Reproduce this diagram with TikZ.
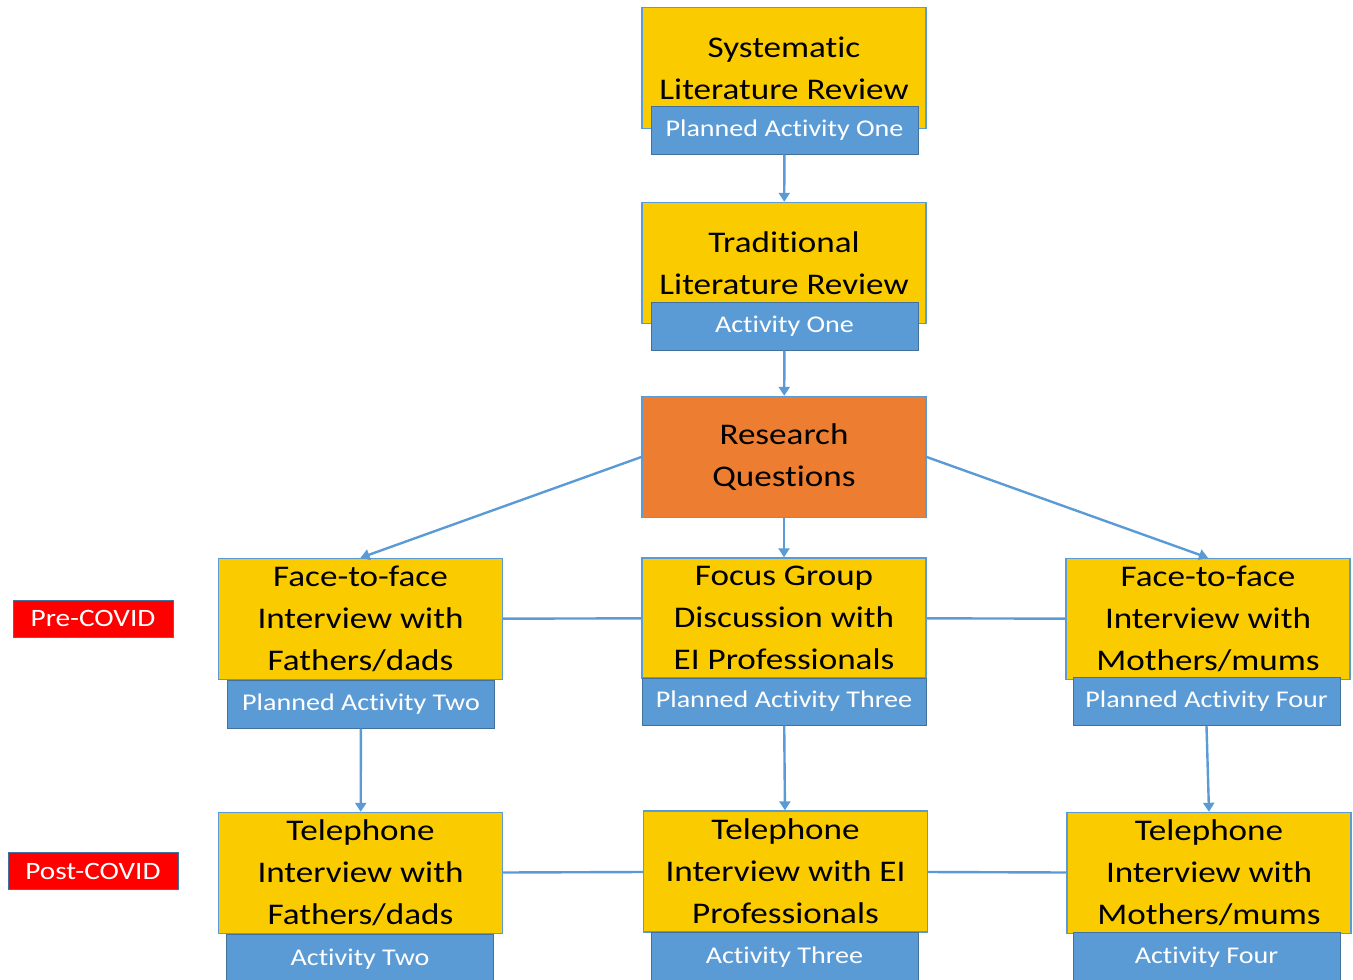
\documentclass[tikz,border=0pt]{standalone}
\usepackage{fontspec}
\setmainfont{Carlito}[FakeStretch=1.17,Ligatures=NoCommon]
\usetikzlibrary{arrows.meta}
\definecolor{stageyellow}{RGB}{250,204,0}
\definecolor{stageblue}{RGB}{91,155,213}
\definecolor{stagebluedark}{RGB}{65,113,156}
\definecolor{stageorange}{RGB}{237,125,49}
\definecolor{covidred}{RGB}{255,0,0}
\begin{document}
\begin{tikzpicture}[x=1pt,y=-1pt,
                stagebox/.style={draw=stageblue,line width=1.4pt,fill=stageyellow,
                    minimum width=284pt,minimum height=121pt,inner sep=0pt,
                    align=center,font=\fontsize{30}{42}\selectfont},
                rqbox/.style={stagebox,fill=stageorange},
                actlabel/.style={draw=stagebluedark,line width=1pt,fill=stageblue,
                    text=white,minimum width=267pt,minimum height=48pt,inner sep=0pt,
                    font=\fontsize{24}{28}\selectfont},
                covidtag/.style={draw=stagebluedark,line width=1pt,fill=covidred,
                    text=white,minimum height=37pt,inner sep=0pt,
                    font=\fontsize{25}{28}\selectfont},
                flow/.style={draw=stageblue,line width=2.4pt,
                    -{Triangle[width=11pt,length=9pt]}},
                link/.style={draw=stageblue,line width=2.4pt}]
                \useasboundingbox (0,0) rectangle (1353,980);
                \node[stagebox] (slr) at (784,68) {Systematic\\Literature Review};
                \node[actlabel] (slrlbl) at (784.5,130) {Planned Activity One};
                \node[stagebox] (tlr) at (784,263) {Traditional\\Literature Review};
                \node[actlabel] (tlrlbl) at (784.5,326) {Activity One};
                \node[rqbox] (rq) at (784,457) {Research\\Questions};
                \node[stagebox] (ffd) at (360.5,619) {Face-to-face\\Interview with\\Fathers/dads};
                \node[actlabel] (ffdlbl) at (361,704) {Planned Activity Two};
                \node[stagebox,minimum height=120pt] (fg) at (784,618) {Focus Group\\Discussion with\\EI Professionals};
                \node[actlabel,minimum width=284pt,minimum height=47pt] (fglbl) at (784,701.5) {Planned Activity Three};
                \node[stagebox] (ffm) at (1208,619) {Face-to-face\\Interview with\\Mothers/mums};
                \node[actlabel] (ffmlbl) at (1206.5,701.5) {Planned Activity Four};
                \node[stagebox] (tfd) at (360.5,873) {Telephone\\Interview with\\Fathers/dads};
                \node[actlabel,minimum height=50pt] (tfdlbl) at (360,959) {Activity Two};
                \node[stagebox] (tp) at (785.5,871.5) {Telephone\\Interview with EI\\Professionals};
                \node[actlabel,minimum height=50pt] (tplbl) at (784.5,957) {Activity Three};
                \node[stagebox] (tfm) at (1209,873) {Telephone\\Interview with\\Mothers/mums};
                \node[actlabel,minimum height=50pt] (tfmlbl) at (1206.5,957) {Activity Four};
                \node[covidtag,minimum width=160pt] (pre) at (93,618.5) {Pre-COVID};
                \node[covidtag,minimum width=170pt] (post) at (93,871) {Post-COVID};
                \draw[flow] (slrlbl) -- (tlr);
                \draw[flow] (tlrlbl) -- (rq);
                \draw[flow] (rq) -- (fg);
                \draw[flow] (rq.west) -- (ffd.north);
                \draw[flow] (rq.east) -- (ffm.north);
                \draw[link] (ffd) -- (fg);
                \draw[link] (fg) -- (ffm);
                \draw[flow] (ffdlbl) -- (tfd);
                \draw[flow] (fglbl) -- (tp);
                \draw[flow] (ffmlbl.south) -- (tfm.north);
                \draw[link] (tfd) -- (tp);
                \draw[link] (tp) -- (tfm);
            \end{tikzpicture}
\end{document}
